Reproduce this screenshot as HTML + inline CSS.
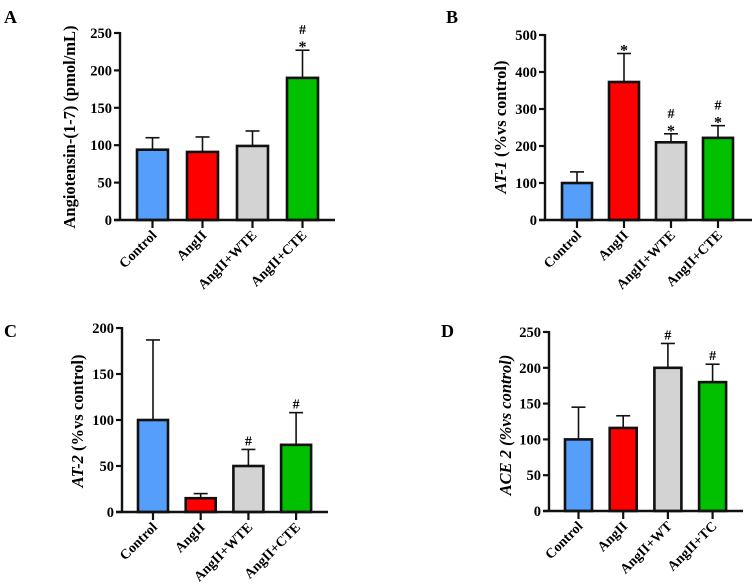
<!DOCTYPE html>
<html><head><meta charset="utf-8"><style>
html,body{margin:0;padding:0;background:#fff;}
svg{display:block;font-family:"Liberation Serif",serif;}
</style></head><body>
<svg id="fig" width="756" height="586" viewBox="0 0 756 586"></svg>
<script>
const colors = ["#559ffb","#ff0000","#d3d3d3","#00c000"];
const catsA = ["Control","AngII","AngII+WTE","AngII+CTE"];
const valsA = [94,91,99,190];
const errA = [110,111,119,227];
const sigA = ["","","","#*"];
const ticksA = [0,50,100,150,200,250];
const catsB = ["Control","AngII","AngII+WTE","AngII+CTE"];
const valsB = [100,373,210,222];
const errB = [130,450,233,255];
const sigB = ["","*","#*","#*"];
const ticksB = [0,100,200,300,400,500];
const catsC = ["Control","AngII","AngII+WTE","AngII+CTE"];
const valsC = [100,15,50,73];
const errC = [187,20,68,108];
const sigC = ["","","#","#"];
const ticksC = [0,50,100,150,200];
const catsD = ["Control","AngII","AngII+WT","AngII+TC"];
const valsD = [100,116,200,180];
const errD = [145,133,234,205];
const sigD = ["","","#","#"];
const ticksD = [0,50,100,150,200,250];

const NS="http://www.w3.org/2000/svg";
const svg=document.getElementById('fig');
function mk(tag,attrs,parent,text){const e=document.createElementNS(NS,tag);for(const k in attrs)e.setAttribute(k,attrs[k]);if(text!==undefined)e.textContent=text;(parent||svg).appendChild(e);return e;}

function panel(cfg,cats,vals,errs,sigs,ticks){
  const g=mk('g',{});
  
  
  const ymax=ticks[ticks.length-1];
  const y=v=>cfg.y0-(v/ymax)*(cfg.y0-cfg.yTop);
  const x=i=>cfg.bx0+i*cfg.step;
  const lab=mk('text',{x:cfg.lx,y:cfg.ly,'font-size':18,'font-weight':'bold'},g,cfg.id);
  
  
  cats.forEach((c,i)=>{
    const cx=x(i)+cfg.bw/2;
    const e=mk('line',{x1:cx,x2:cx,y1:y(vals[i]),y2:y(errs[i]),stroke:'#111','stroke-width':1.6},g);
    
    
    const cap=mk('line',{x1:cx-7,x2:cx+7,y1:y(errs[i]),y2:y(errs[i]),stroke:'#111','stroke-width':1.6},g);
    
    
    const r=mk('rect',{x:x(i),y:y(vals[i]),width:cfg.bw,height:cfg.y0-y(vals[i]),fill:colors[i],stroke:'#111','stroke-width':2.6},g);
    
    
    const s=sigs[i];
    if(s){
      let yy=y(errs[i])-4;
      if(s.includes('*')){const t=mk('text',{x:cx,y:yy+6,'text-anchor':'middle','font-size':16,'font-weight':'bold'},g,'*');yy-=12;}
      if(s.includes('#')){const t=mk('text',{x:cx,y:yy,'text-anchor':'middle','font-size':14,'font-weight':'bold'},g,'#');}
    }
    const tk=mk('line',{x1:cx,x2:cx,y1:cfg.y0,y2:cfg.y0+8,stroke:'#111','stroke-width':2.2},g);
    
    
    const tl=mk('text',{x:cx+5,y:cfg.y0+16,'text-anchor':'end','font-size':14,'font-weight':'bold',transform:`rotate(-45 ${cx+5} ${cfg.y0+16})`},g,c);
    
    
  });
  const ya=mk('line',{x1:cfg.ax,x2:cfg.ax,y1:cfg.yTop-1,y2:cfg.y0+1,stroke:'#111','stroke-width':2.4},g);
  
  
  const xa=mk('line',{x1:cfg.ax-6,x2:cfg.xEnd,y1:cfg.y0,y2:cfg.y0,stroke:'#111','stroke-width':2.4},g);
  
  
  ticks.forEach(t=>{
    const l=mk('line',{x1:cfg.ax-6,x2:cfg.ax,y1:y(t),y2:y(t),stroke:'#111','stroke-width':2.2},g);
    
    
    const tt=mk('text',{x:cfg.ax-8,y:y(t)+5,'text-anchor':'end','font-size':14.5,'font-weight':'bold'},g,String(t));
    
    
  });
  const ti=mk('text',{x:cfg.tx,y:cfg.ty,'text-anchor':'middle','font-size':16.5,'font-weight':'bold',transform:`rotate(-90 ${cfg.tx} ${cfg.ty})`},g);
  
  
  if(cfg.ital){mk('tspan',{'font-style':'italic'},ti,cfg.ital);}
  mk('tspan',{'font-style':cfg.allItal?'italic':'normal'},ti,cfg.title);
}
panel({id:'A',lx:4,ly:23,ax:120,yTop:33,y0:220,bx0:137,step:50,bw:31,xEnd:335,tx:75,ty:127,title:'Angiotensin-(1-7) (pmol/mL)'},catsA,valsA,errA,sigA,ticksA);
panel({id:'B',lx:446,ly:23,ax:545,yTop:35,y0:220,bx0:562,step:47,bw:30,xEnd:752,tx:506,ty:127,ital:'AT-1',title:' (%vs control)'},catsB,valsB,errB,sigB,ticksB);
panel({id:'C',lx:4,ly:337,ax:122,yTop:328,y0:512,bx0:138,step:47.7,bw:30,xEnd:328,tx:83,ty:421,ital:'AT-2',title:' (%vs control)'},catsC,valsC,errC,sigC,ticksC);
panel({id:'D',lx:441,ly:337,ax:549,yTop:332,y0:511,bx0:565,step:44.7,bw:27,xEnd:743,tx:511,ty:425,ital:'ACE 2 (%vs control)',title:'',allItal:true},catsD,valsD,errD,sigD,ticksD);
</script>
</body></html>
